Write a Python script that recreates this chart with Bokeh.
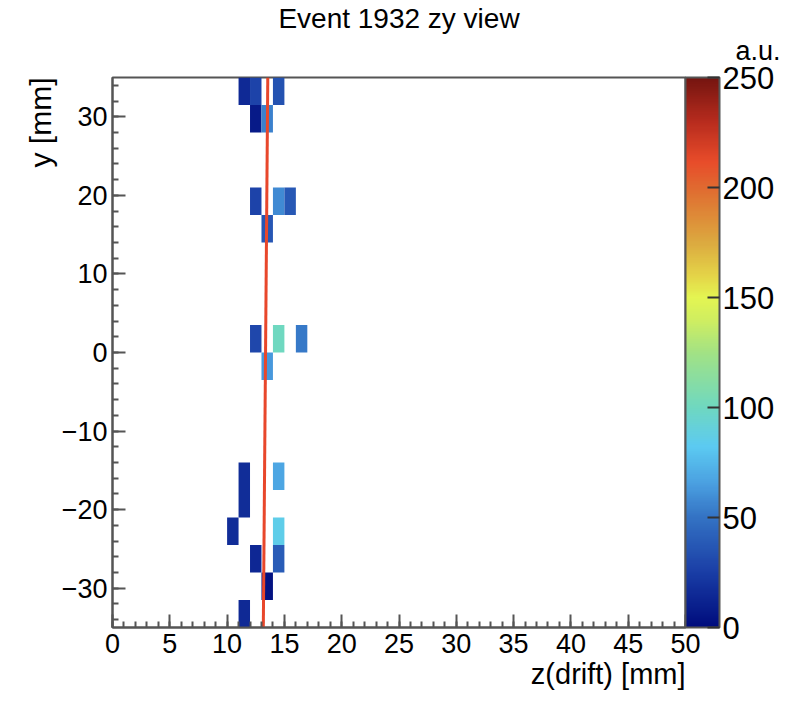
import numpy as np
from bokeh.plotting import figure
from bokeh.models import (Range1d, SingleIntervalTicker, FixedTicker, ColorBar,
                          LinearColorMapper, Title, ColumnDataSource)
from bokeh.embed import file_html
from bokeh.resources import INLINE

# ---- data ----
z_bin_width = 1.0      # mm
y_bin_height = 3.5     # mm
z_lo = [11, 12, 14, 12, 13, 12, 14, 15, 13, 12, 14, 16, 13, 11, 14, 11, 10, 14, 12, 14, 13, 11]
y_lo = [31.5, 31.5, 31.5, 28, 28, 17.5, 17.5, 17.5, 14, 0, 0, 0, -3.5,
        -17.5, -17.5, -21, -24.5, -24.5, -28, -28, -31.5, -35]
charge = [15, 28, 35, 7, 55, 28, 58, 38, 37, 30, 100, 52, 63,
          17, 68, 17, 17, 85, 14, 40, 3, 15]

fit_z = [13.16, 13.55]
fit_y = [-35, 35]

x_ticks_interval = 5
y_ticks = [-30, -20, -10, 0, 10, 20, 30]
cb_ticks = [0, 50, 100, 150, 200, 250]
cb_low, cb_high = 0, 250

# ---- palette (sampled from the colour bar) ----
stops = [(0, "#000c7d"), (25, "#1a3ea6"), (50, "#3473c4"), (65, "#4a9fe0"),
         (82, "#5ccaf2"), (100, "#6fd8c0"), (125, "#a2e284"), (140, "#d0ee60"),
         (150, "#e4f552"), (160, "#e4d448"), (175, "#dcaa40"), (190, "#de8436"),
         (200, "#e06a30"), (212, "#e84c2a"), (230, "#b82c1e"), (250, "#751510")]

def hex2rgb(h):
    return [int(h[i:i + 2], 16) for i in (1, 3, 5)]

sv = np.array([s[0] for s in stops], float)
sc = np.array([hex2rgb(s[1]) for s in stops], float)
vals = np.linspace(0, 250, 256)
palette = []
for v in vals:
    rgb = [int(round(np.interp(v, sv, sc[:, k]))) for k in range(3)]
    palette.append("#%02x%02x%02x" % tuple(rgb))

mapper = LinearColorMapper(palette=palette, low=cb_low, high=cb_high)

src = ColumnDataSource(dict(
    left=z_lo,
    right=[z + z_bin_width for z in z_lo],
    bottom=y_lo,
    top=[y + y_bin_height for y in y_lo],
    charge=charge,
))

FONT = "Liberation Sans"
FRAME_H = 550

p = figure(frame_width=573, frame_height=FRAME_H,
           x_range=Range1d(0, 50), y_range=Range1d(-35, 35),
           output_backend="svg", toolbar_location=None,
           min_border_left=112, min_border_right=98, min_border_top=74, min_border_bottom=70)
p.grid.visible = False
p.background_fill_color = "white"
p.border_fill_color = "white"
p.outline_line_color = "#555555"
p.outline_line_width = 2

p.quad(left="left", right="right", bottom="bottom", top="top", source=src,
       fill_color={"field": "charge", "transform": mapper}, line_color=None)
p.line(fit_z, fit_y, line_color="#e8472b", line_width=3)

# axes
xa = p.xaxis[0]
xa.ticker = SingleIntervalTicker(interval=x_ticks_interval, num_minor_ticks=5)
ya = p.yaxis[0]
ya.ticker = FixedTicker(ticks=y_ticks, minor_ticks=list(range(-34, 36, 2)))
ya.major_label_overrides = {t: (("\u2212" + str(abs(t))) if t < 0 else str(t)) for t in y_ticks}
for ax in (xa, ya):
    ax.major_tick_in = 13
    ax.major_tick_out = 0
    ax.minor_tick_in = 6
    ax.minor_tick_out = 0
    ax.axis_line_color = "#555555"
    ax.axis_line_width = 2
    ax.major_tick_line_color = "#555555"
    ax.minor_tick_line_color = "#555555"
    ax.major_tick_line_width = 2
    ax.minor_tick_line_width = 2
    ax.major_label_text_font = FONT
    ax.major_label_text_font_size = "27px"
    ax.major_label_text_color = "black"
xa.major_label_standoff = 6
ya.major_label_standoff = 5

# colour bar
cb = ColorBar(color_mapper=mapper, ticker=FixedTicker(ticks=cb_ticks),
              width=34, height=FRAME_H, padding=0, margin=3, location="top_left",
              major_tick_in=12, major_tick_out=0, major_tick_line_color="#333333",
              major_tick_line_width=2, minor_tick_line_color=None,
              bar_line_color="#555555", bar_line_width=2,
              major_label_text_font=FONT, major_label_text_font_size="31px",
              major_label_text_color="black", label_standoff=3,
              background_fill_alpha=0, border_line_color=None)
p.add_layout(cb, "right")

# thin spacer, then the colour-bar unit, then the main title on top
p.add_layout(Title(text=" ", text_font=FONT, text_font_size="8px", standoff=1), "above")
p.add_layout(Title(text="a.u.", align="right", offset=-95, text_font=FONT,
                   text_font_size="27px", text_font_style="normal",
                   text_color="black", standoff=0), "above")
p.add_layout(Title(text="Event 1932 zy view", align="center", text_font=FONT,
                   text_font_size="28px", text_font_style="normal",
                   text_color="black", standoff=0), "above")

# axis titles (ROOT style: right/top aligned)
p.add_layout(Title(text="z(drift) [mm]", align="right", text_font=FONT,
                   text_font_size="29px", text_font_style="normal",
                   text_color="black", standoff=0), "below")
p.add_layout(Title(text="y [mm]", align="right", text_font=FONT,
                   text_font_size="30px", text_font_style="normal",
                   text_color="black", standoff=4), "left")

open("out.html", "w").write(file_html(p, INLINE))
